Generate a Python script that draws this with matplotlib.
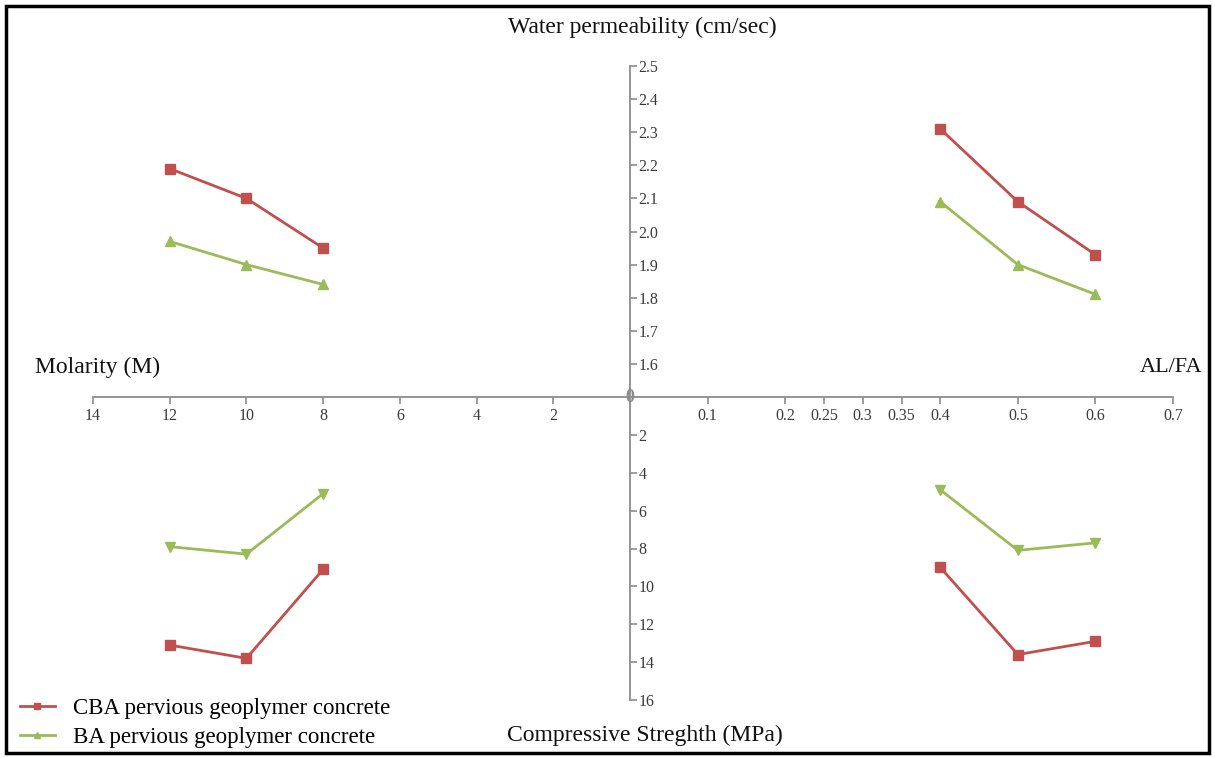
import matplotlib.pyplot as plt
from matplotlib.patches import Rectangle

# x values
molarity = [12, 10, 8]
alfa = [0.4, 0.5, 0.6]

# water permeability (cm/sec)
cba_perm_mol = [2.19, 2.10, 1.95]
ba_perm_mol = [1.97, 1.90, 1.84]
cba_perm_alfa = [2.31, 2.09, 1.93]
ba_perm_alfa = [2.09, 1.90, 1.81]

# compressive strength (MPa)
cba_cs_mol = [13.1, 13.8, 9.1]
ba_cs_mol = [7.9, 8.3, 5.1]
cba_cs_alfa = [9.0, 13.6, 12.9]
ba_cs_alfa = [4.9, 8.1, 7.7]

mol_ticks = [14, 12, 10, 8, 6, 4, 2]
alfa_ticks = [0.1, 0.2, 0.25, 0.3, 0.35, 0.4, 0.5, 0.6, 0.7]
perm_ticks = [1.6, 1.7, 1.8, 1.9, 2.0, 2.1, 2.2, 2.3, 2.4, 2.5]
cs_ticks = [2, 4, 6, 8, 10, 12, 14, 16]

red = '#C0504D'
green = '#9BBB59'
grey = '#8C8C8C'
txt = '#3A3A3A'

plt.rcParams['font.family'] = ['Liberation Serif', 'DejaVu Serif']

W, H = 1215, 758
fig = plt.figure(figsize=(W / 100, H / 100), dpi=100)

ox, oy = 630, 397
xl, xr, yt, yb = 93, 1173, 66, 700

ax_tl = fig.add_axes([xl / W, (H - oy) / H, (ox - xl) / W, (oy - yt) / H])
ax_tr = fig.add_axes([ox / W, (H - oy) / H, (xr - ox) / W, (oy - yt) / H])
ax_bl = fig.add_axes([xl / W, (H - yb) / H, (ox - xl) / W, (yb - oy) / H])
ax_br = fig.add_axes([ox / W, (H - yb) / H, (xr - ox) / W, (yb - oy) / H])

for ax in [ax_tl, ax_tr, ax_bl, ax_br]:
    ax.patch.set_alpha(0)
    for s in ax.spines.values():
        s.set_visible(False)
    ax.set_xticks([])
    ax.set_yticks([])

ax_tl.set_xlim(14, 0)
ax_bl.set_xlim(14, 0)
ax_tr.set_xlim(0, 0.7)
ax_br.set_xlim(0, 0.7)
ax_tl.set_ylim(1.5, 2.5)
ax_tr.set_ylim(1.5, 2.5)
ax_bl.set_ylim(16, 0)
ax_br.set_ylim(16, 0)

# horizontal axis
for ax, ticks in [(ax_tl, mol_ticks), (ax_tr, alfa_ticks)]:
    ax.spines['bottom'].set_visible(True)
    ax.spines['bottom'].set_color(grey)
    ax.spines['bottom'].set_linewidth(1.3)
    ax.set_xticks(ticks)
    ax.set_xticklabels([str(t) for t in ticks])
    ax.tick_params(axis='x', direction='out', length=5, width=1.2, color=grey,
                   labelsize=11.5, labelcolor=txt, pad=3)

# vertical axis
ax_tl.set_yticks(perm_ticks)
ax_tl.set_yticklabels(['%.1f' % t for t in perm_ticks])
ax_bl.set_yticks(cs_ticks)
ax_bl.set_yticklabels([str(t) for t in cs_ticks])
for ax in [ax_tl, ax_bl]:
    ax.spines['right'].set_visible(True)
    ax.spines['right'].set_color(grey)
    ax.spines['right'].set_linewidth(1.3)
    ax.yaxis.tick_right()
    ax.tick_params(axis='y', direction='out', length=5, width=1.2, color=grey,
                   labelsize=11.5, labelcolor=txt, pad=1)

ax_tl.text(0, 1.5, '0', ha='center', va='center', fontsize=13, color=grey,
           fontweight='bold')

# data
ax_tl.plot(molarity, cba_perm_mol, color=red, lw=2, marker='s', ms=7,
           label='CBA pervious geoplymer concrete')
ax_tl.plot(molarity, ba_perm_mol, color=green, lw=2, marker='^', ms=7,
           label='BA pervious geoplymer concrete')
ax_tr.plot(alfa, cba_perm_alfa, color=red, lw=2, marker='s', ms=7)
ax_tr.plot(alfa, ba_perm_alfa, color=green, lw=2, marker='^', ms=7)
ax_bl.plot(molarity, cba_cs_mol, color=red, lw=2, marker='s', ms=7)
ax_bl.plot(molarity, ba_cs_mol, color=green, lw=2, marker='v', ms=7)
ax_br.plot(alfa, cba_cs_alfa, color=red, lw=2, marker='s', ms=7)
ax_br.plot(alfa, ba_cs_alfa, color=green, lw=2, marker='v', ms=7)

# axis titles
fig.text(642 / W, 1 - 27 / H, 'Water permeability (cm/sec)', ha='center', va='center',
         fontsize=17, color='#111111')
fig.text(645 / W, 1 - 735 / H, 'Compressive Streghth (MPa)', ha='center', va='center',
         fontsize=17, color='#111111')
fig.text(35 / W, 1 - 367 / H, 'Molarity (M)', ha='left', va='center',
         fontsize=17, color='#111111')
fig.text(1202 / W, 1 - 367 / H, 'AL/FA', ha='right', va='center',
         fontsize=16, color='#111111')

h, l = ax_tl.get_legend_handles_labels()
fig.legend(h, l, loc='lower left', bbox_to_anchor=(11 / W, 1 / H), frameon=False,
           fontsize=16.5, handlelength=1.5, handletextpad=0.8, labelspacing=0.35,
           borderaxespad=0, markerscale=0.7)

fig.patches.append(Rectangle((6 / W, 5 / H), 1 - 12 / W, 1 - 11 / H, transform=fig.transFigure,
                             fill=False, edgecolor='black', lw=2.5))

fig.savefig('out.png', dpi=100)
